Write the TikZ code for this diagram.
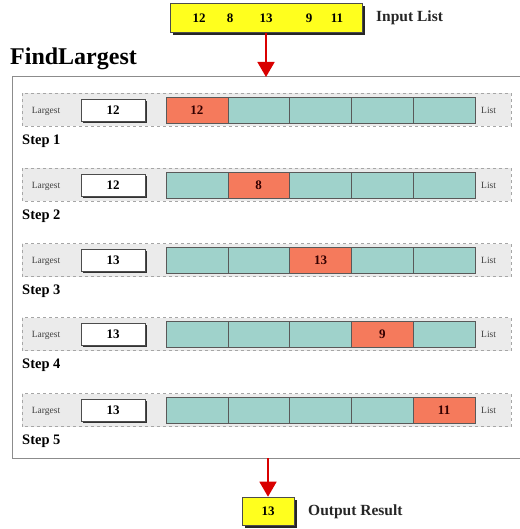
\documentclass[tikz,border=0pt]{standalone}
\usepackage{fontspec}
\setmainfont{Liberation Serif}
\usetikzlibrary{arrows.meta,shadows}
\definecolor{cellteal}{HTML}{9FD2CB}
\definecolor{cellred}{HTML}{F57A5C}
\definecolor{bandgrey}{HTML}{EBEBEB}
\definecolor{yel}{HTML}{FFFF1E}
\begin{document}
\begin{tikzpicture}[x=1pt,y=-1pt,
  yellowbox/.style={draw=black!70,fill=yel,inner sep=0pt,line width=0.6pt,
     drop shadow={shadow xshift=2.5pt,shadow yshift=-2.5pt,fill=black!85,opacity=1}},
  largestbox/.style={draw=black!70,fill=white,minimum width=64pt,minimum height=22pt,inner sep=0pt,
     font=\bfseries\fontsize{13}{14}\selectfont,
     drop shadow={shadow xshift=2pt,shadow yshift=-2pt,fill=black!80,opacity=1}},
  cellbox/.style={draw=black!65,fill=cellteal,minimum width=61.8pt,minimum height=26pt,inner sep=0pt,line width=0.6pt},
  hotcell/.style={cellbox,fill=cellred,font=\bfseries\fontsize{13}{14}\selectfont,text=black!80!red},
  band/.style={draw=black!35,dashed,fill=bandgrey,line width=0.6pt},
  smalllabel/.style={font=\fontsize{9.5}{10}\selectfont,text=black!75,inner sep=0pt},
  steplabel/.style={font=\bfseries\fontsize{14.5}{15}\selectfont,anchor=west,inner sep=0pt},
  biglabel/.style={font=\bfseries\fontsize{15.5}{16}\selectfont,anchor=west,inner sep=0pt,text=black!85},
  flow/.style={draw=red!85!black,line width=1.6pt,-{Triangle[length=15pt,width=17pt]}}]
\useasboundingbox (0,0) rectangle (519,529);
% input
\node[yellowbox,minimum width=192pt,minimum height=29pt] (in) at (266,18) {};
\foreach \v/\x in {12/199,8/230,13/266,9/309,11/337}
  \node[font=\bfseries\fontsize{13}{14}\selectfont,inner sep=0pt] (in\v) at (\x,18) {\v};
\node[biglabel] (inlab) at (376,18) {Input List};
% frame
\node[font=\bfseries\fontsize{24}{26}\selectfont,anchor=west,inner sep=0pt] (title) at (10,59) {FindLargest};
\draw[draw=black!45,line width=1pt] (12,77) rectangle (521,458);
\coordinate (ftop) at (266,77);
\coordinate (fbot) at (268,458);
\draw[flow] (in.south -| ftop) -- (ftop);
% steps
\foreach \s/\yc/\lv/\hot/\hv in {1/110/12/1/12, 2/185/12/2/8, 3/260/13/3/13, 4/334/13/4/9, 5/410/13/5/11}{
  \draw[band] (22,\yc-16.5) rectangle (511,\yc+16.5);
  \node[smalllabel] (lg\s) at (46,\yc+1) {Largest};
  \node[largestbox] (lb\s) at (113,\yc) {\lv};
  \foreach \i in {1,...,5}{
    \pgfmathsetmacro{\cx}{166+61.8*(\i-0.5)}
    \ifnum\i=\hot
      \node[hotcell] (c\s-\i) at (\cx,\yc) {\hv};
    \else
      \node[cellbox] (c\s-\i) at (\cx,\yc) {};
    \fi
  }
  \node[smalllabel,anchor=west] (ls\s) at (481,\yc) {List};
  \node[steplabel] (st\s) at (22,\yc+31) {Step \s};
}
% output
\node[yellowbox,minimum width=52pt,minimum height=28pt,font=\bfseries\fontsize{13}{14}\selectfont] (out) at (268,511) {13};
\node[biglabel] (outlab) at (308,512) {Output Result};
\draw[flow] (fbot) -- (out.north);
\end{tikzpicture}
\end{document}
